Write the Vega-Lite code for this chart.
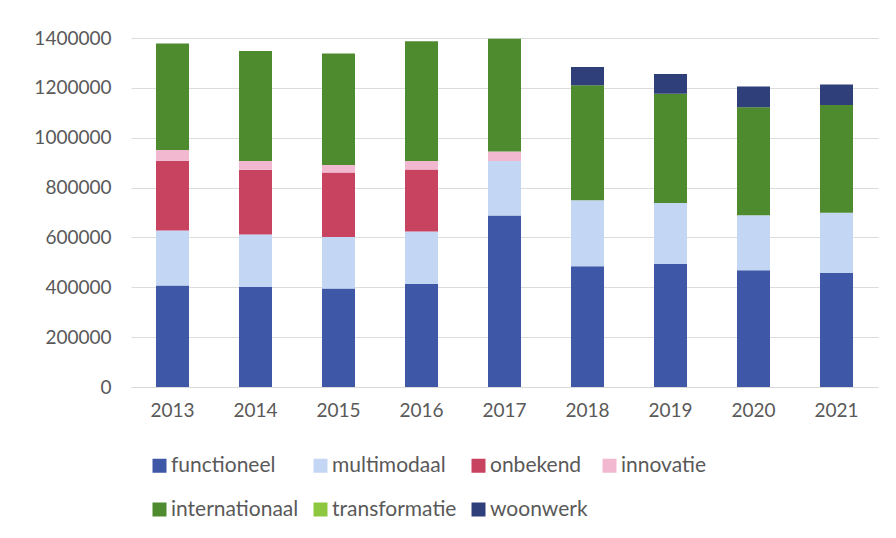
{
  "$schema": "https://vega.github.io/schema/vega-lite/v6.json",
  "width": 747,
  "height": 349,
  "autosize": {"type": "none"},
  "padding": {"left": 131, "top": 38, "right": 18, "bottom": 151},
  "background": "white",
  "data": {
    "values": [
      {"jaar": "2013", "type": "functioneel", "waarde": 407000},
      {"jaar": "2013", "type": "multimodaal", "waarde": 221000},
      {"jaar": "2013", "type": "onbekend", "waarde": 280000},
      {"jaar": "2013", "type": "innovatie", "waarde": 43000},
      {"jaar": "2013", "type": "internationaal", "waarde": 427000},
      {"jaar": "2014", "type": "functioneel", "waarde": 401000},
      {"jaar": "2014", "type": "multimodaal", "waarde": 211000},
      {"jaar": "2014", "type": "onbekend", "waarde": 259000},
      {"jaar": "2014", "type": "innovatie", "waarde": 36000},
      {"jaar": "2014", "type": "internationaal", "waarde": 441000},
      {"jaar": "2015", "type": "functioneel", "waarde": 395000},
      {"jaar": "2015", "type": "multimodaal", "waarde": 207000},
      {"jaar": "2015", "type": "onbekend", "waarde": 258000},
      {"jaar": "2015", "type": "innovatie", "waarde": 31000},
      {"jaar": "2015", "type": "internationaal", "waarde": 447000},
      {"jaar": "2016", "type": "functioneel", "waarde": 413000},
      {"jaar": "2016", "type": "multimodaal", "waarde": 211000},
      {"jaar": "2016", "type": "onbekend", "waarde": 248000},
      {"jaar": "2016", "type": "innovatie", "waarde": 35000},
      {"jaar": "2016", "type": "internationaal", "waarde": 480000},
      {"jaar": "2017", "type": "functioneel", "waarde": 688000},
      {"jaar": "2017", "type": "multimodaal", "waarde": 219000},
      {"jaar": "2017", "type": "innovatie", "waarde": 38000},
      {"jaar": "2017", "type": "internationaal", "waarde": 452000},
      {"jaar": "2018", "type": "functioneel", "waarde": 484000},
      {"jaar": "2018", "type": "multimodaal", "waarde": 265000},
      {"jaar": "2018", "type": "internationaal", "waarde": 461000},
      {"jaar": "2018", "type": "woonwerk", "waarde": 74000},
      {"jaar": "2019", "type": "functioneel", "waarde": 493000},
      {"jaar": "2019", "type": "multimodaal", "waarde": 245000},
      {"jaar": "2019", "type": "internationaal", "waarde": 438000},
      {"jaar": "2019", "type": "woonwerk", "waarde": 80000},
      {"jaar": "2020", "type": "functioneel", "waarde": 468000},
      {"jaar": "2020", "type": "multimodaal", "waarde": 221000},
      {"jaar": "2020", "type": "internationaal", "waarde": 433000},
      {"jaar": "2020", "type": "woonwerk", "waarde": 83000},
      {"jaar": "2021", "type": "functioneel", "waarde": 457000},
      {"jaar": "2021", "type": "multimodaal", "waarde": 242000},
      {"jaar": "2021", "type": "internationaal", "waarde": 432000},
      {"jaar": "2021", "type": "woonwerk", "waarde": 82000}
    ]
  },
  "transform": [
    {"calculate": "indexof(['functioneel','multimodaal','onbekend','innovatie','internationaal','transformatie','woonwerk'], datum.type)", "as": "volgorde"}
  ],
  "mark": {"type": "bar", "width": 33},
  "encoding": {
    "x": {
      "field": "jaar",
      "type": "ordinal",
      "title": null,
      "scale": {"paddingInner": 0.6, "paddingOuter": 0.3},
      "axis": {
        "labelAngle": 0,
        "labelFont": "Lato",
        "labelFontSize": 19,
        "labelColor": "#595959",
        "labelPadding": 14,
        "ticks": false,
        "domain": true,
        "domainColor": "#D9D9D9",
        "grid": false
      }
    },
    "y": {
      "field": "waarde",
      "type": "quantitative",
      "title": null,
      "stack": "zero",
      "scale": {"domain": [0, 1400000], "nice": false},
      "axis": {
        "values": [0, 200000, 400000, 600000, 800000, 1000000, 1200000, 1400000],
        "format": "d",
        "labelFont": "Lato",
        "labelFontSize": 19,
        "labelColor": "#595959",
        "labelPadding": 20,
        "ticks": false,
        "domain": false,
        "grid": true,
        "gridColor": "#DCDCDC",
        "gridWidth": 1
      }
    },
    "color": {
      "field": "type",
      "type": "nominal",
      "scale": {
        "domain": ["functioneel", "multimodaal", "onbekend", "innovatie", "internationaal", "transformatie", "woonwerk"],
        "range": ["#3E57A6", "#C3D7F5", "#C8435F", "#F2B8CF", "#4E8A2E", "#8DC63F", "#2F3F7A"]
      },
      "legend": {
        "title": null,
        "orient": "none",
        "legendX": 18,
        "legendY": 417,
        "direction": "horizontal",
        "columns": 4,
        "columnPadding": 11,
        "rowPadding": 22,
        "symbolType": "square",
        "symbolSize": 196,
        "symbolStrokeWidth": 0,
        "symbolOffset": 0,
        "labelFont": "Lato",
        "labelFontSize": 21,
        "labelColor": "#595959",
        "labelOffset": 1,
        "padding": 0
      }
    },
    "order": {"field": "volgorde", "type": "quantitative"}
  },
  "config": {"view": {"stroke": null}}
}
